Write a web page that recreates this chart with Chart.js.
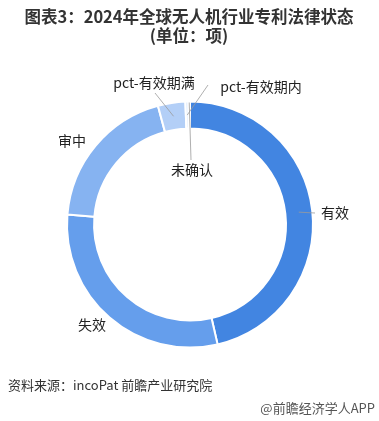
<!DOCTYPE html>
<html>
<head>
    <title>2024年全球无人机行业专利法律状态</title>
    <script src="https://cdn.jsdelivr.net/npm/chart.js"></script>
</head>
<body style="margin: 0; background-color: #ffffff;">
    <div style="width: 379px; height: 421px; position: relative;">
        <canvas id="myChart" width="379" height="421"></canvas>
    </div>

    <script>
        // data (share of patents, %)
        var categories = ['有效', '失效', '审中', 'pct-有效期满', 'pct-有效期内', '未确认'];
        var values = [46.4, 29.9, 19.5, 3.6, 0.4, 0.2];
        var colors = ['#4285e1', '#659eec', '#86b3f1', '#b3cff7', '#d6e6fb', '#eef4fd'];

        var titleLines = ['图表3：2024年全球无人机行业专利法律状态', '(单位：项)'];
        var sourceText = '资料来源：incoPat 前瞻产业研究院';
        var brandText = '@前瞻经济学人APP';

        var cjk = '"Noto Sans CJK SC", "Noto Sans", sans-serif';

        // where each label sits: text anchor + leader line end (null = no line)
        var labelLayout = {
            '有效':        { x: 321, y: 213, align: 'left',   lineTo: [315, 213], fromR: 'mid' },
            '失效':        { x: 92,  y: 325, align: 'center', lineTo: null },
            '审中':        { x: 72,  y: 141, align: 'center', lineTo: null },
            'pct-有效期满': { x: 154, y: 83,  align: 'center', lineTo: [155, 93], fromR: 'mid' },
            'pct-有效期内': { x: 261, y: 87,  align: 'center', lineTo: [208, 85], fromR: 'mid' },
            '未确认':      { x: 192, y: 170, align: 'center', lineTo: [191, 160], fromR: 'outer' }
        };

        var textPlugin = {
            id: 'textPlugin',
            afterDraw: function (chart) {
                var c = chart.ctx;
                c.save();
                // title
                c.fillStyle = '#333333';
                c.textAlign = 'center';
                c.textBaseline = 'middle';
                c.font = 'bold 16.5px ' + cjk;
                c.fillText(titleLines[0], 189, 17);
                c.fillText(titleLines[1], 189, 36);

                // labels + leader lines
                var meta = chart.getDatasetMeta(0);
                meta.data.forEach(function (arc, i) {
                    var lay = labelLayout[categories[i]];
                    if (lay.lineTo) {
                        var mid = (arc.startAngle + arc.endAngle) / 2;
                        var r = lay.fromR === 'outer' ? arc.outerRadius - 1 : (arc.innerRadius + arc.outerRadius) / 2;
                        c.strokeStyle = '#9a9a9a';
                        c.lineWidth = 0.8;
                        c.beginPath();
                        c.moveTo(arc.x + r * Math.cos(mid), arc.y + r * Math.sin(mid));
                        c.lineTo(lay.lineTo[0], lay.lineTo[1]);
                        c.stroke();
                    }
                    c.fillStyle = '#222222';
                    c.font = '14px ' + cjk;
                    c.textAlign = lay.align;
                    c.fillText(categories[i], lay.x, lay.y);
                });

                // footer
                c.font = '13px ' + cjk;
                c.fillStyle = '#333333';
                c.textAlign = 'left';
                c.fillText(sourceText, 8, 385);
                c.fillStyle = '#555555';
                c.textAlign = 'right';
                c.fillText(brandText, 375, 408);
                c.restore();
            }
        };

        var ctx = document.getElementById('myChart').getContext('2d');
        var myChart = new Chart(ctx, {
            type: 'doughnut',
            data: {
                labels: categories,
                datasets: [{
                    data: values,
                    backgroundColor: colors,
                    borderColor: '#ffffff',
                    borderWidth: 2
                }]
            },
            options: {
                responsive: false,
                animation: false,
                cutout: '78%',
                layout: {
                    padding: { left: 66, right: 65, top: 100, bottom: 72 }
                },
                plugins: {
                    legend: { display: false },
                    tooltip: { enabled: false }
                }
            },
            plugins: [textPlugin]
        });
    </script>
</body>
</html>
